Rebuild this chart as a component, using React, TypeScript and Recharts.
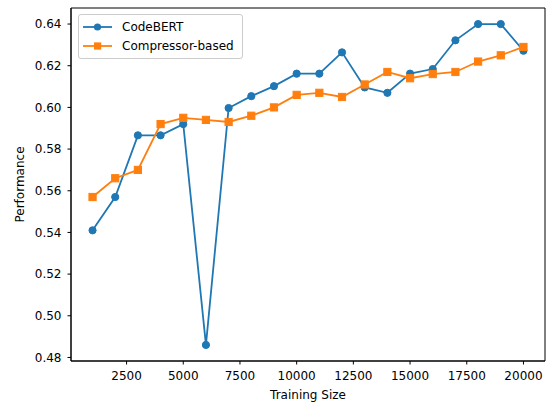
import React from 'react';
import { LineChart, Line, XAxis, YAxis, Legend, ReferenceArea } from 'recharts';

const trainingSizes = [1000, 2000, 3000, 4000, 5000, 6000, 7000, 8000, 9000, 10000, 11000, 12000, 13000, 14000, 15000, 16000, 17000, 18000, 19000, 20000];
const codeBert = [0.541, 0.557, 0.5866, 0.5866, 0.592, 0.486, 0.5997, 0.6054, 0.6102, 0.6162, 0.6162, 0.6264, 0.6096, 0.607, 0.6162, 0.6184, 0.6322, 0.640, 0.640, 0.6272];
const compressor = [0.557, 0.566, 0.570, 0.592, 0.595, 0.594, 0.593, 0.596, 0.600, 0.606, 0.607, 0.605, 0.611, 0.617, 0.614, 0.616, 0.617, 0.622, 0.625, 0.629];
const xTicks = [2500, 5000, 7500, 10000, 12500, 15000, 17500, 20000];
const yTicks = [0.48, 0.50, 0.52, 0.54, 0.56, 0.58, 0.60, 0.62, 0.64];

const BLUE = '#1f77b4';
const ORANGE = '#ff7f0e';
const FONT = '"DejaVu Sans", sans-serif';

const xDomain = [50, 20950];
const yDomain = [0.4783, 0.6477];

const Square = (props: any) => {
  const { cx, cy } = props;
  if (cx == null || cy == null) return null;
  return <rect x={cx - 3.6} y={cy - 3.6} width={7.2} height={7.2} fill={ORANGE} stroke={ORANGE} strokeWidth={1} />;
};

const LegendBox = () => {
  const items = [
    { name: 'CodeBERT', color: BLUE, square: false },
    { name: 'Compressor-based', color: ORANGE, square: true },
  ];
  return (
    <div style={{ border: '1px solid #cccccc', borderRadius: 3, background: 'rgba(255,255,255,0.8)', padding: '2px 8px 3px 4px', fontFamily: FONT, fontSize: 12 }}>
      {items.map(it => (
        <div key={it.name} style={{ display: 'flex', alignItems: 'center', height: 19 }}>
          <svg width={30} height={12} style={{ marginRight: 9 }}>
            <line x1={0} y1={6} x2={29} y2={6} stroke={it.color} strokeWidth={1.8} />
            {it.square
              ? <rect x={11} y={2.4} width={7.2} height={7.2} fill={it.color} />
              : <circle cx={14.5} cy={6} r={3.6} fill={it.color} />}
          </svg>
          <span style={{ color: '#000' }}>{it.name}</span>
        </div>
      ))}
    </div>
  );
};

const App: React.FC = () => {
  const data = trainingSizes.map((size, i) => ({ size, codeBert: codeBert[i], compressor: compressor[i] }));
  const tickStyle = { fill: '#000', fontSize: 12, fontFamily: FONT };

  return (
    <div style={{ position: 'absolute', left: 0, top: 0, background: '#fff' }}>
      <LineChart width={550} height={404} data={data} margin={{ top: 8, right: 5, bottom: 0, left: 0 }}>
        <XAxis
          type="number"
          dataKey="size"
          domain={xDomain}
          ticks={xTicks}
          height={43}
          tickSize={3.5}
          tickMargin={7}
          tick={tickStyle}
          stroke="#000"
          label={{ value: 'Training Size', position: 'insideBottom', offset: 5, style: { fill: '#000', fontSize: 12, fontFamily: FONT } }}
        />
        <YAxis
          type="number"
          domain={yDomain}
          ticks={yTicks}
          width={71}
          tickSize={3.5}
          tickMargin={6}
          tick={tickStyle}
          stroke="#000"
          tickFormatter={(v: number) => v.toFixed(2)}
          label={{ value: 'Performance', angle: -90, position: 'insideLeft', offset: 20, style: { fill: '#000', fontSize: 12, fontFamily: FONT, textAnchor: 'middle' } }}
        />
        <ReferenceArea x1={xDomain[0]} x2={xDomain[1]} y1={yDomain[0]} y2={yDomain[1]} fill="none" stroke="#000" strokeWidth={1} />
        <Line
          dataKey="codeBert"
          name="CodeBERT"
          stroke={BLUE}
          strokeWidth={1.8}
          dot={{ r: 3.6, fill: BLUE, stroke: BLUE, strokeWidth: 1 }}
          activeDot={false}
          isAnimationActive={false}
        />
        <Line
          dataKey="compressor"
          name="Compressor-based"
          stroke={ORANGE}
          strokeWidth={1.8}
          dot={<Square />}
          activeDot={false}
          isAnimationActive={false}
        />
        <Legend
          layout="vertical"
          align="center"
          verticalAlign="middle"
          content={() => <LegendBox />}
          wrapperStyle={{ top: 14, left: 78, width: 'auto' }}
        />
      </LineChart>
    </div>
  );
};

export default App;
